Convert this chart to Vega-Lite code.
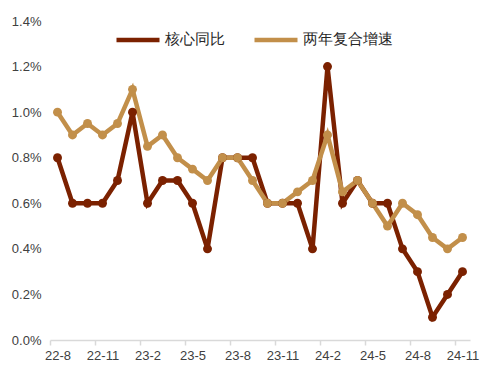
{
  "$schema": "https://vega.github.io/schema/vega-lite/v6.json",
  "width": 420,
  "height": 319,
  "autosize": {"type": "none"},
  "padding": {"left": 50, "top": 21, "right": 15, "bottom": 30},
  "background": "white",
  "config": {"view": {"stroke": null}, "font": "Liberation Sans"},
  "datasets": {
    "rows": [
      {"m": "22-8", "s": "核心同比", "v": 0.8}, {"m": "22-9", "s": "核心同比", "v": 0.6}, {"m": "22-10", "s": "核心同比", "v": 0.6}, {"m": "22-11", "s": "核心同比", "v": 0.6},
      {"m": "22-12", "s": "核心同比", "v": 0.7}, {"m": "23-1", "s": "核心同比", "v": 1.0}, {"m": "23-2", "s": "核心同比", "v": 0.6}, {"m": "23-3", "s": "核心同比", "v": 0.7},
      {"m": "23-4", "s": "核心同比", "v": 0.7}, {"m": "23-5", "s": "核心同比", "v": 0.6}, {"m": "23-6", "s": "核心同比", "v": 0.4}, {"m": "23-7", "s": "核心同比", "v": 0.8},
      {"m": "23-8", "s": "核心同比", "v": 0.8}, {"m": "23-9", "s": "核心同比", "v": 0.8}, {"m": "23-10", "s": "核心同比", "v": 0.6}, {"m": "23-11", "s": "核心同比", "v": 0.6},
      {"m": "23-12", "s": "核心同比", "v": 0.6}, {"m": "24-1", "s": "核心同比", "v": 0.4}, {"m": "24-2", "s": "核心同比", "v": 1.2}, {"m": "24-3", "s": "核心同比", "v": 0.6},
      {"m": "24-4", "s": "核心同比", "v": 0.7}, {"m": "24-5", "s": "核心同比", "v": 0.6}, {"m": "24-6", "s": "核心同比", "v": 0.6}, {"m": "24-7", "s": "核心同比", "v": 0.4},
      {"m": "24-8", "s": "核心同比", "v": 0.3}, {"m": "24-9", "s": "核心同比", "v": 0.1}, {"m": "24-10", "s": "核心同比", "v": 0.2}, {"m": "24-11", "s": "核心同比", "v": 0.3},
      {"m": "22-8", "s": "两年复合增速", "v": 1.0}, {"m": "22-9", "s": "两年复合增速", "v": 0.9}, {"m": "22-10", "s": "两年复合增速", "v": 0.95}, {"m": "22-11", "s": "两年复合增速", "v": 0.9},
      {"m": "22-12", "s": "两年复合增速", "v": 0.95}, {"m": "23-1", "s": "两年复合增速", "v": 1.1}, {"m": "23-2", "s": "两年复合增速", "v": 0.85}, {"m": "23-3", "s": "两年复合增速", "v": 0.9},
      {"m": "23-4", "s": "两年复合增速", "v": 0.8}, {"m": "23-5", "s": "两年复合增速", "v": 0.75}, {"m": "23-6", "s": "两年复合增速", "v": 0.7}, {"m": "23-7", "s": "两年复合增速", "v": 0.8},
      {"m": "23-8", "s": "两年复合增速", "v": 0.8}, {"m": "23-9", "s": "两年复合增速", "v": 0.7}, {"m": "23-10", "s": "两年复合增速", "v": 0.6}, {"m": "23-11", "s": "两年复合增速", "v": 0.6},
      {"m": "23-12", "s": "两年复合增速", "v": 0.65}, {"m": "24-1", "s": "两年复合增速", "v": 0.7}, {"m": "24-2", "s": "两年复合增速", "v": 0.9}, {"m": "24-3", "s": "两年复合增速", "v": 0.65},
      {"m": "24-4", "s": "两年复合增速", "v": 0.7}, {"m": "24-5", "s": "两年复合增速", "v": 0.6}, {"m": "24-6", "s": "两年复合增速", "v": 0.5}, {"m": "24-7", "s": "两年复合增速", "v": 0.6},
      {"m": "24-8", "s": "两年复合增速", "v": 0.55}, {"m": "24-9", "s": "两年复合增速", "v": 0.45}, {"m": "24-10", "s": "两年复合增速", "v": 0.4}, {"m": "24-11", "s": "两年复合增速", "v": 0.45}
    ]
  },
  "data": {"name": "rows"},
  "mark": {"type": "line", "strokeWidth": 4.5, "point": {"filled": true, "size": 80}},
  "encoding": {
    "x": {
      "field": "m", "type": "ordinal", "sort": null,
      "scale": {"type": "point", "padding": 0.5},
      "axis": {
        "title": null, "labelAngle": 0,
        "values": ["22-8", "22-11", "23-2", "23-5", "23-8", "23-11", "24-2", "24-5", "24-8", "24-11"],
        "domainColor": "#d9d9d9", "domainWidth": 1.5, "tickColor": "#d9d9d9", "tickWidth": 1.5, "tickSize": 5,
        "tickOffset": -7.5, "labelOffset": 7.5,
        "labelFontSize": 13, "labelColor": "#404040", "labelPadding": 4
      }
    },
    "y": {
      "field": "v", "type": "quantitative",
      "scale": {"domain": [0, 1.4], "nice": false},
      "axis": {
        "title": null, "values": [0, 0.2, 0.4, 0.6, 0.8, 1.0, 1.2, 1.4],
        "labelExpr": "format(datum.value, '.1f') + '%'",
        "domain": false, "ticks": false, "grid": false,
        "labelFontSize": 13, "labelColor": "#404040", "labelPadding": 9
      }
    },
    "color": {
      "field": "s", "type": "nominal",
      "scale": {"domain": ["核心同比", "两年复合增速"], "range": ["#7b2100", "#c28f4a"]},
      "legend": {
        "title": null, "orient": "none", "direction": "horizontal",
        "legendX": 64, "legendY": -5,
        "symbolType": "stroke", "symbolSize": 1849, "symbolStrokeWidth": 4.5,
        "labelFontSize": 14.5, "labelColor": "#262626", "columnPadding": 20, "labelOffset": 3
      }
    }
  }
}
